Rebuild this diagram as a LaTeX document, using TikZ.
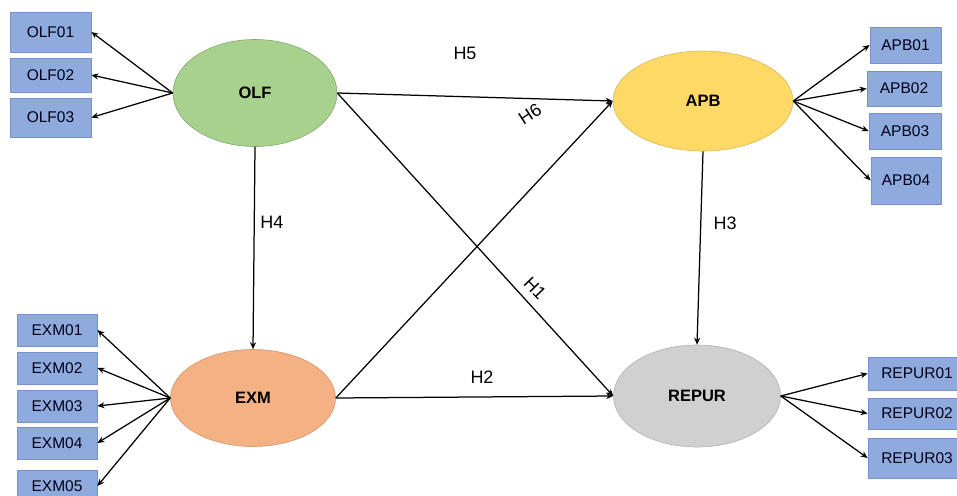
\documentclass[tikz,border=0pt]{standalone}
\usepackage{fontspec}
\setmainfont{Liberation Sans}
\usetikzlibrary{shapes.geometric,arrows.meta}
\definecolor{boxfill}{HTML}{8FAADC}
\definecolor{boxline}{HTML}{7890CC}
\definecolor{olfc}{HTML}{A9D18E}
\definecolor{apbc}{HTML}{FFD966}
\definecolor{exmc}{HTML}{F4B183}
\definecolor{repc}{HTML}{D0D0D0}
\tikzset{
  ind/.style={draw=boxline, fill=boxfill, line width=0.8pt, inner sep=0pt,
    font=\fontsize{15.5}{18}\selectfont, text=black!90!blue},
  lat/.style={ellipse, inner sep=0pt, line width=0.6pt,
    font=\bfseries\fontsize{16.5}{19}\selectfont},
  arr/.style={line width=1.25pt, -{Stealth[length=7pt,width=6pt]}},
  hlab/.style={font=\fontsize{18}{20}\selectfont, inner sep=0pt}
}
\begin{document}
\begin{tikzpicture}[x=1pt,y=-1pt]
\clip (0,0) rectangle (957,495);
\fill[white] (0,0) rectangle (957,495);
% latent variables
\node[lat, fill=olfc, draw=olfc!80!black, minimum width=164pt, minimum height=107pt] (olf) at (255,93) {OLF};
\node[lat, fill=apbc, draw=apbc!85!black, minimum width=180pt, minimum height=100pt] (apb) at (703,101) {APB};
\node[lat, fill=exmc, draw=exmc!85!black, minimum width=165pt, minimum height=97pt] (exm) at (253,398) {EXM};
\node[lat, fill=repc, draw=repc!85!black, minimum width=167pt, minimum height=102pt] (repur) at (697,396) {REPUR};
% OLF indicators
\node[ind, minimum width=81pt, minimum height=40pt] (olf01) at (50.5,32) {OLF01};
\node[ind, minimum width=81pt, minimum height=34pt] (olf02) at (50.5,75) {OLF02};
\node[ind, minimum width=81pt, minimum height=39pt] (olf03) at (50.5,117.5) {OLF03};
% EXM indicators
\node[ind, minimum width=80pt, minimum height=32pt] (exm01) at (57,330) {EXM01};
\node[ind, minimum width=80pt, minimum height=32pt] (exm02) at (57,368) {EXM02};
\node[ind, minimum width=80pt, minimum height=32pt] (exm03) at (57,406) {EXM03};
\node[ind, minimum width=80pt, minimum height=32pt] (exm04) at (57,443) {EXM04};
\node[ind, minimum width=80pt, minimum height=32pt] (exm05) at (57,486) {EXM05};
% APB indicators
\node[ind, minimum width=71pt, minimum height=36pt] (apb01) at (905.5,45) {APB01};
\node[ind, minimum width=74pt, minimum height=35pt] (apb02) at (904,88.5) {APB02};
\node[ind, minimum width=72pt, minimum height=36pt] (apb03) at (905,131) {APB03};
\node[ind, minimum width=70pt, minimum height=47pt] (apb04) at (906,180.5) {APB04};
% REPUR indicators
\node[ind, minimum width=98pt, minimum height=33pt] (rep01) at (917,373.5) {REPUR01};
\node[ind, minimum width=98pt, minimum height=31pt] (rep02) at (917,413.5) {REPUR02};
\node[ind, minimum width=98pt, minimum height=40pt] (rep03) at (917,458) {REPUR03};
% measurement arrows
\foreach \b in {olf01,olf02,olf03} \draw[arr] (olf.west) -- (\b.east);
\foreach \b in {exm01,exm02,exm03,exm04,exm05} \draw[arr] (exm.west) -- (\b.east);
\foreach \b in {apb01,apb02,apb03,apb04} \draw[arr] (apb.east) -- (\b.west);
\foreach \b in {rep01,rep02,rep03} \draw[arr] (repur.east) -- (\b.west);
% structural paths
\draw[arr] (olf.east) -- (apb.west);
\draw[arr] (olf.east) -- (repur.west);
\draw[arr] (exm.east) -- (apb.west);
\draw[arr] (exm.east) -- (repur.west);
\draw[arr] (olf.south) -- (exm.north);
\draw[arr] (apb.south) -- (repur.north);
% hypothesis labels
\node[hlab] (h5) at (465,53) {H5};
\node[hlab, rotate=33] (h6) at (530,114) {H6};
\node[hlab, rotate=-46] (h1) at (535,288) {H1};
\node[hlab] (h2) at (482,377) {H2};
\node[hlab] (h4) at (272,222) {H4};
\node[hlab] (h3) at (725,223) {H3};
\end{tikzpicture}
\end{document}
